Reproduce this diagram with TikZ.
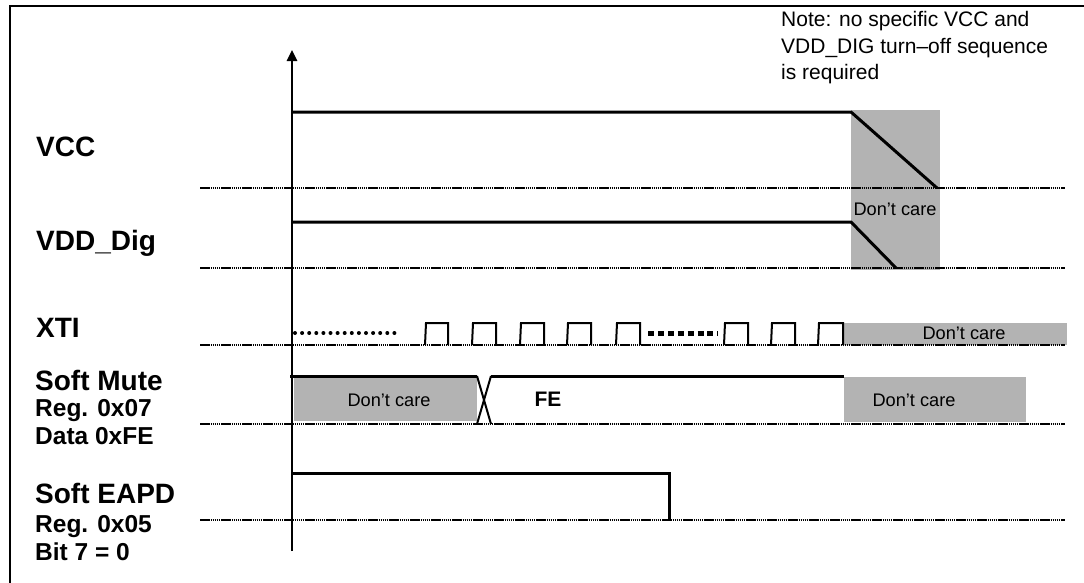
\documentclass[tikz,border=0pt]{standalone}
\usepackage{fontspec}
\setmainfont{Liberation Sans}
\usetikzlibrary{arrows.meta}
\definecolor{dcgray}{RGB}{179,179,179}
\begin{document}
\begin{tikzpicture}[x=1pt,y=-1pt,
 sig/.style={line width=3pt, line join=miter},
 pulse/.style={line width=2pt},
 baseln/.style={line width=2.6pt, dash pattern=on 1.5pt off 0.6pt, black},
 dcbox/.style={fill=dcgray, draw=none},
 biglab/.style={anchor=base west, inner sep=0pt, font=\fontsize{28}{32}\selectfont\bfseries},
 sublab/.style={anchor=base west, inner sep=0pt, font=\fontsize{24.5}{28}\selectfont\bfseries},
 dctext/.style={inner sep=0pt, font=\fontsize{18.2}{21}\selectfont}]
\useasboundingbox (0,0) rectangle (1084,582);
% frame
\draw[line width=2pt] (10,600) -- (10,5.5) -- (1100,5.5);
% grey don't care boxes
\fill[dcbox] (851,110) rectangle (940,270);
\fill[dcbox] (844,323) rectangle (1067,345);
\fill[dcbox] (294,378) rectangle (477,421);
\fill[dcbox] (844,377) rectangle (1026,422);
% baselines
\foreach \yy in {188,268,345,424,520} \draw[baseln] (200,\yy) -- (1065,\yy);
% axis
\draw[line width=2.5pt, -{Triangle[length=11pt,width=10pt]}] (292,551) -- (292,50);
% VCC
\draw[sig] (292,112) -- (851,112) -- (937,188);
% VDD_Dig
\draw[sig] (292,222) -- (851,222) -- (896,268);
% XTI
\draw[line width=4pt, line cap=round, dash pattern=on 0pt off 7.1pt] (295,333) -- (398,333);
\draw[line width=5pt, dash pattern=on 6pt off 3.9pt] (648,333) -- (718,333);
\foreach \r/\f in {426/448,473/496,521/544,568/591,617/640,725/748,772/795,819/843}
  \draw[pulse, line join=miter] (\r-1,345) -- (\r,323) -- (\f,323) -- (\f,345);
% Soft mute
\draw[sig] (290,376) -- (477,376);
\draw[sig] (491,376) -- (844,376);
\draw[pulse] (477,376) -- (491,424) (491,376) -- (477,424);
% Soft EAPD
\draw[sig] (292,473) -- (669,473) -- (669,520);
% texts
\node[biglab] (lvcc) at (36,156) {VCC};
\node[biglab] (lvdd) at (36,250) {VDD\_Dig};
\node[biglab] (lxti) at (36,337) {XTI};
\node[biglab] (lsm) at (35,390.5) {Soft Mute};
\node[sublab] (lsm1) at (35,416.5) {Reg. 0x07};
\node[sublab] (lsm2) at (35,444) {Data 0xFE};
\node[biglab] (lea) at (35,503) {Soft EAPD};
\node[sublab] (lea1) at (35,532) {Reg. 0x05};
\node[sublab] (lea2) at (35,560) {Bit 7 = 0};
\node[dctext] (dc1) at (895,209) {Don’t care};
\node[dctext] (dc2) at (964,333) {Don’t care};
\node[dctext] (dc3) at (389,400) {Don’t care};
\node[dctext] (dc4) at (914,400) {Don’t care};
\node[inner sep=0pt, font=\fontsize{21}{25}\selectfont\bfseries] (fe) at (548,399) {FE};
\node[anchor=north west, inner sep=0pt, align=left, font=\fontsize{21}{26.7}\selectfont] (note) at (781,11)
  {Note: no specific VCC and\\VDD\_DIG turn–off sequence\\is required};
\end{tikzpicture}
\end{document}
